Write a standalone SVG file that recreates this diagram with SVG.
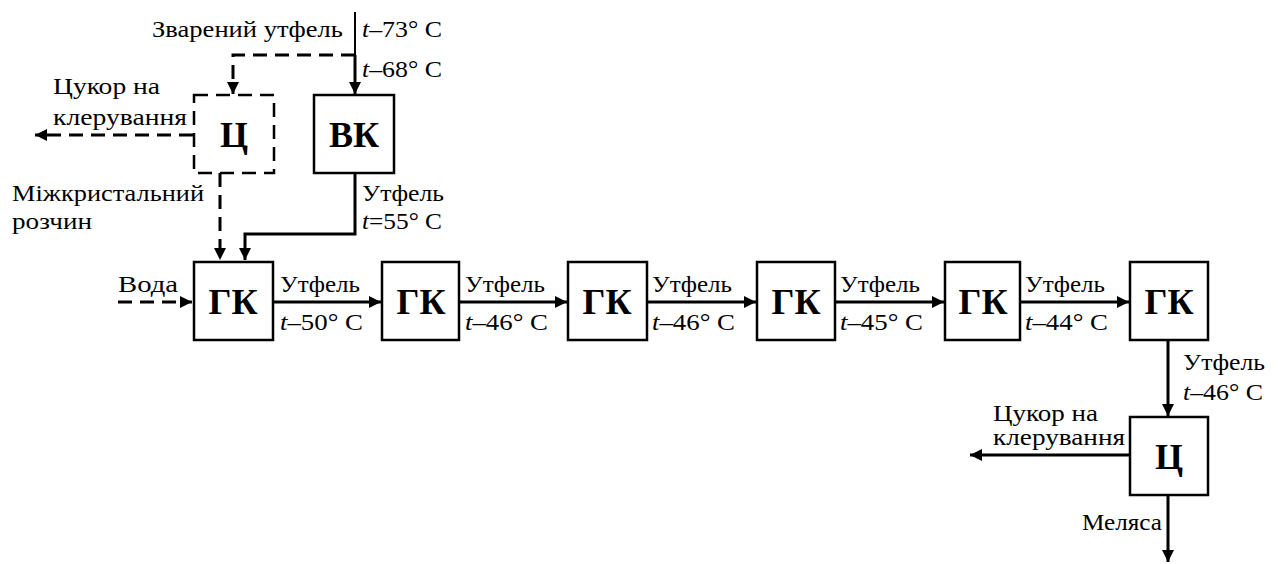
<svg xmlns="http://www.w3.org/2000/svg" width="1278" height="564" viewBox="0 0 1278 564">
<style>
text{font-family:"Liberation Serif","Times New Roman",serif;fill:#000}
.t{font-size:23px}
.b{font-size:36px;font-weight:bold;text-anchor:middle}
.box{fill:#fff;stroke:#000;stroke-width:2.5}
.dbox{fill:#fff;stroke:#000;stroke-width:2.5;stroke-dasharray:14 8}
.ln{fill:none;stroke:#000;stroke-width:3}
.dl{fill:none;stroke:#000;stroke-width:3;stroke-dasharray:14 8}
.thin{fill:none;stroke:#000;stroke-width:2}
</style>
<defs>
<marker id="ah" viewBox="0 0 10 10" refX="10" refY="5" markerWidth="4" markerHeight="4" orient="auto" markerUnits="strokeWidth">
<path d="M0,0 L10,5 L0,10 Z" fill="#000"/>
</marker>
</defs>
<g id="connectors">
<path class="thin" d="M355,12 V56"/>
<path class="ln" d="M355,55 V94" marker-end="url(#ah)"/>
<path class="dl" d="M355,55 H233 V94" marker-end="url(#ah)"/>
<path class="dl" d="M193,135 H35" marker-end="url(#ah)"/>
<path class="dl" d="M220,173 V260" marker-end="url(#ah)"/>
<path class="ln" d="M355,173 V234 H245 V260" marker-end="url(#ah)"/>
<path class="dl" d="M118,302 H192" marker-end="url(#ah)"/>
<path class="ln" d="M273,302 H381" marker-end="url(#ah)"/>
<path class="ln" d="M459,302 H567" marker-end="url(#ah)"/>
<path class="ln" d="M647,302 H756" marker-end="url(#ah)"/>
<path class="ln" d="M835,302 H944" marker-end="url(#ah)"/>
<path class="ln" d="M1020,302 H1129" marker-end="url(#ah)"/>
<path class="ln" d="M1168,340 V416" marker-end="url(#ah)"/>
<path class="ln" d="M1130,455 H970" marker-end="url(#ah)"/>
<path class="ln" d="M1168,495 V562" marker-end="url(#ah)"/>
</g>
<g id="labels">
<text class="t" x="152" y="37" textLength="191" lengthAdjust="spacingAndGlyphs">Зварений утфель</text>
<text class="t" x="362" y="37" textLength="80" lengthAdjust="spacingAndGlyphs"><tspan font-style="italic">t</tspan>–73° C</text>
<text class="t" x="362" y="77" textLength="80" lengthAdjust="spacingAndGlyphs"><tspan font-style="italic">t</tspan>–68° C</text>
<text class="t" x="53" y="94" textLength="107" lengthAdjust="spacingAndGlyphs">Цукор на</text>
<text class="t" x="53" y="125" textLength="134" lengthAdjust="spacingAndGlyphs">клерування</text>
<text class="t" x="12" y="201" textLength="192" lengthAdjust="spacingAndGlyphs">Міжкристальний</text>
<text class="t" x="12" y="229" textLength="80" lengthAdjust="spacingAndGlyphs">розчин</text>
<text class="t" x="362" y="201" textLength="82" lengthAdjust="spacingAndGlyphs">Утфель</text>
<text class="t" x="362" y="229" textLength="80" lengthAdjust="spacingAndGlyphs"><tspan font-style="italic">t</tspan>=55° C</text>
<text class="t" x="118" y="292" textLength="60" lengthAdjust="spacingAndGlyphs">Вода</text>
<text class="t" x="280" y="292" textLength="80" lengthAdjust="spacingAndGlyphs">Утфель</text>
<text class="t" x="280" y="330" textLength="83" lengthAdjust="spacingAndGlyphs"><tspan font-style="italic">t</tspan>–50° C</text>
<text class="t" x="465" y="292" textLength="80" lengthAdjust="spacingAndGlyphs">Утфель</text>
<text class="t" x="465" y="330" textLength="83" lengthAdjust="spacingAndGlyphs"><tspan font-style="italic">t</tspan>–46° C</text>
<text class="t" x="652" y="292" textLength="80" lengthAdjust="spacingAndGlyphs">Утфель</text>
<text class="t" x="652" y="330" textLength="83" lengthAdjust="spacingAndGlyphs"><tspan font-style="italic">t</tspan>–46° C</text>
<text class="t" x="840" y="292" textLength="80" lengthAdjust="spacingAndGlyphs">Утфель</text>
<text class="t" x="840" y="330" textLength="83" lengthAdjust="spacingAndGlyphs"><tspan font-style="italic">t</tspan>–45° C</text>
<text class="t" x="1025" y="292" textLength="80" lengthAdjust="spacingAndGlyphs">Утфель</text>
<text class="t" x="1025" y="330" textLength="83" lengthAdjust="spacingAndGlyphs"><tspan font-style="italic">t</tspan>–44° C</text>
<text class="t" x="1183" y="370" textLength="82" lengthAdjust="spacingAndGlyphs">Утфель</text>
<text class="t" x="1183" y="400" textLength="80" lengthAdjust="spacingAndGlyphs"><tspan font-style="italic">t</tspan>–46° C</text>
<text class="t" x="993" y="421" textLength="105" lengthAdjust="spacingAndGlyphs">Цукор на</text>
<text class="t" x="993" y="445" textLength="132" lengthAdjust="spacingAndGlyphs">клерування</text>
<text class="t" x="1082" y="530" textLength="80" lengthAdjust="spacingAndGlyphs">Меляса</text>
</g>
<g id="c1"><rect class="dbox" x="194" y="95" width="80" height="78"/><text class="b" x="234" y="147">Ц</text></g>
<g id="vk"><rect class="box" x="314" y="95" width="80" height="78"/><text class="b" x="354" y="147">ВК</text></g>
<g id="gk1"><rect class="box" x="194" y="262" width="79" height="78"/><text class="b" x="233" y="314">ГК</text></g>
<g id="gk2"><rect class="box" x="382" y="262" width="77" height="78"/><text class="b" x="421" y="314">ГК</text></g>
<g id="gk3"><rect class="box" x="568" y="262" width="79" height="78"/><text class="b" x="607" y="314">ГК</text></g>
<g id="gk4"><rect class="box" x="757" y="262" width="78" height="78"/><text class="b" x="796" y="314">ГК</text></g>
<g id="gk5"><rect class="box" x="945" y="262" width="75" height="78"/><text class="b" x="983" y="314">ГК</text></g>
<g id="gk6"><rect class="box" x="1130" y="262" width="78" height="78"/><text class="b" x="1169" y="314">ГК</text></g>
<g id="c2"><rect class="box" x="1130" y="417" width="78" height="78"/><text class="b" x="1169" y="469">Ц</text></g>
</svg>
